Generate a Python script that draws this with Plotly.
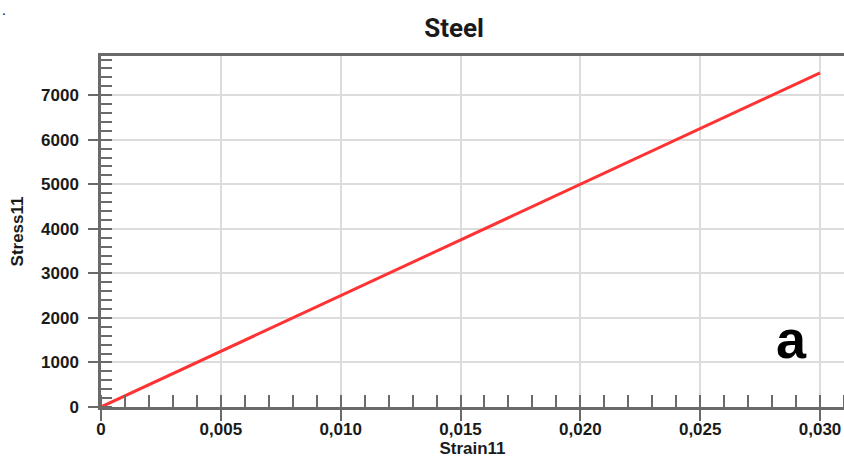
import plotly.graph_objects as go

# Stress-strain data for the steel sample (linear elastic)
strain = [0.0, 0.030]
stress = [0.0, 7500.0]

x_tick_vals = [0.0, 0.005, 0.010, 0.015, 0.020, 0.025, 0.030]
x_tick_text = ["0", "0,005", "0,010", "0,015", "0,020", "0,025", "0,030"]
y_tick_vals = [0, 1000, 2000, 3000, 4000, 5000, 6000, 7000]
y_tick_text = ["0", "1000", "2000", "3000", "4000", "5000", "6000", "7000"]

FONT = "Liberation Sans"
AXIS_COLOR = "#6a6a6a"
GRID_COLOR = "#dcdcdc"
TEXT_COLOR = "#1a1a1a"

fig = go.Figure()
fig.add_trace(go.Scatter(
    x=strain, y=stress, mode="lines",
    line=dict(color="#ff3333", width=3),
    showlegend=False, hoverinfo="skip",
))

fig.update_layout(
    width=844, height=461,
    margin=dict(l=101, r=0, t=56, b=54),
    paper_bgcolor="white", plot_bgcolor="white",
    separators=",.",
    title=dict(text="Steel", x=0.538, xanchor="center", y=0.939, yanchor="middle",
               font=dict(family="Roboto", size=26, color=TEXT_COLOR, weight="bold")),
    font=dict(family=FONT, color=TEXT_COLOR),
)

fig.update_xaxes(
    range=[0, 0.031],
    tickvals=x_tick_vals, ticktext=x_tick_text,
    ticks="outside", ticklen=11, tickwidth=2, tickcolor=AXIS_COLOR,
    tickfont=dict(family=FONT, size=17, color=TEXT_COLOR, weight="bold"),
    ticklabelstandoff=-6,
    showline=True, linecolor=AXIS_COLOR, linewidth=2.5, mirror=True,
    showgrid=True, gridcolor=GRID_COLOR, gridwidth=1.5,
    zeroline=False,
    minor=dict(dtick=0.001, tick0=0, ticks="inside", ticklen=12, tickwidth=1.5,
               tickcolor=AXIS_COLOR, showgrid=False),
    title=dict(text="Strain11", standoff=4,
               font=dict(family=FONT, size=17, color=TEXT_COLOR, weight="bold")),
)

fig.update_yaxes(
    range=[0, 7880],
    tickvals=y_tick_vals, ticktext=y_tick_text,
    ticks="outside", ticklen=10, tickwidth=2, tickcolor=AXIS_COLOR,
    tickfont=dict(family=FONT, size=17, color=TEXT_COLOR, weight="bold"),
    ticklabelstandoff=6,
    showline=True, linecolor=AXIS_COLOR, linewidth=2.5,
    showgrid=True, gridcolor=GRID_COLOR, gridwidth=1.5,
    zeroline=False,
    minor=dict(dtick=200, tick0=0, ticks="inside", ticklen=11, tickwidth=1.5,
               tickcolor=AXIS_COLOR, showgrid=False),
    title=dict(text="Stress11", standoff=14,
               font=dict(family=FONT, size=17, color=TEXT_COLOR, weight="bold")),
)

# Panel letter
fig.add_annotation(
    text="a", xref="paper", yref="paper", x=(791 - 101) / 743, y=(407 - 339) / 351,
    xanchor="center", yanchor="middle", showarrow=False,
    font=dict(family=FONT, size=54, color="#000", weight="bold"),
)
fig.add_annotation(
    text=".", xref="paper", yref="paper", x=-0.136, y=1.16,
    xanchor="left", yanchor="top", showarrow=False,
    font=dict(family=FONT, size=14, color="#000"),
)

fig.write_html("out.html")
